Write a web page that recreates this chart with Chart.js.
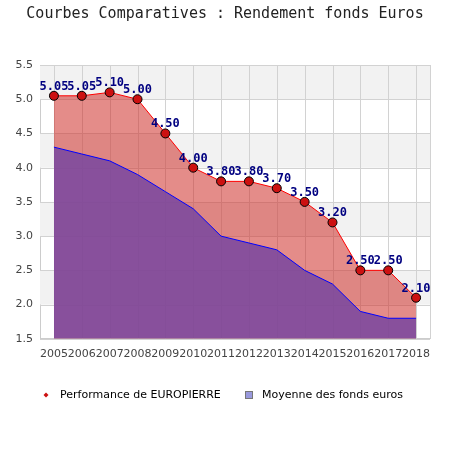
<!DOCTYPE html>
<html><head><meta charset="utf-8">
<script src="https://cdn.jsdelivr.net/npm/chart.js@4/dist/chart.umd.min.js"></script>
<style>html,body{margin:0;padding:0;background:#fff;}#wrap{width:450px;height:450px;position:relative;}</style>
</head><body><div id="wrap"><canvas id="c" width="450" height="450"></canvas></div>
<script>
const chartTitle = "Courbes Comparatives : Rendement fonds Euros";
const years = ["2005","2006","2007","2008","2009","2010","2011","2012","2013","2014","2015","2016","2017","2018"];
const europierre = [5.05,5.05,5.10,5.00,4.50,4.00,3.80,3.80,3.70,3.50,3.20,2.50,2.50,2.10];
const moyenne = [4.3,4.2,4.1,3.9,3.65,3.4,3.0,2.9,2.8,2.5,2.3,1.9,1.8,1.8];
const seriesNames = ["Performance de EUROPIERRE","Moyenne des fonds euros"];
const yTicks = [1.5,2.0,2.5,3.0,3.5,4.0,4.5,5.0,5.5];

const bandsPlugin = {
  id:'bands',
  beforeDatasetsDraw(chart){
    const {ctx, chartArea:a, scales:{y}} = chart;
    ctx.save();
    for(let i=0;i<yTicks.length-1;i++){
      const lo=yTicks[i], hi=yTicks[i+1];
      if(i%2===1){
        const y1=y.getPixelForValue(hi), y2=y.getPixelForValue(lo);
        ctx.fillStyle='#f2f2f2';
        ctx.fillRect(a.left,y1,a.right-a.left,y2-y1);
      }
    }
    ctx.strokeStyle='#d2d2d2'; ctx.lineWidth=1;
    const x=chart.scales.x;
    years.forEach((_,i)=>{const px=Math.round(x.getPixelForValue(i))+0.5;ctx.beginPath();ctx.moveTo(px,a.top);ctx.lineTo(px,a.bottom);ctx.stroke();});
    yTicks.forEach(v=>{const py=Math.round(y.getPixelForValue(v))+0.5;ctx.beginPath();ctx.moveTo(a.left,py);ctx.lineTo(a.right,py);ctx.stroke();});
    ctx.beginPath();ctx.moveTo(a.right+0.5,a.top);ctx.lineTo(a.right+0.5,a.bottom);ctx.stroke();
    ctx.restore();
  }
};
const labelsPlugin = {
  id:'vlabels',
  afterDatasetsDraw(chart){
    const {ctx} = chart;
    const meta = chart.getDatasetMeta(0);
    ctx.save();
    ctx.font='bold 12px "DejaVu Sans Mono", monospace';
    ctx.fillStyle='#000080';
    ctx.textAlign='center'; ctx.textBaseline='alphabetic';
    meta.data.forEach((pt,i)=>{
      ctx.fillText(europierre[i].toFixed(2), pt.x, pt.y-6);
    });
    ctx.restore();
  }
};
const legendPlugin = {
  id:'customLegend',
  afterDraw(chart){
    const {ctx} = chart;
    ctx.save();
    ctx.font='15px "DejaVu Sans Mono", monospace';
    ctx.fillStyle='#222'; ctx.textAlign='center'; ctx.textBaseline='middle';
    ctx.fillText(chartTitle,225,14);
    ctx.font='11px "DejaVu Sans", sans-serif';
    ctx.textBaseline='middle'; ctx.textAlign='left';
    const ly=395;
    ctx.fillStyle='#cc1111';
    ctx.beginPath();ctx.moveTo(46,ly-2.5);ctx.lineTo(48.5,ly);ctx.lineTo(46,ly+2.5);ctx.lineTo(43.5,ly);ctx.closePath();ctx.fill();
    ctx.fillStyle='#000';
    ctx.fillText(seriesNames[0],60,ly);
    ctx.fillStyle='#9999dd'; ctx.strokeStyle='#777';
    ctx.fillRect(245.5,391.5,7,7); ctx.strokeRect(245.5,391.5,7,7);
    ctx.fillStyle='#000';
    ctx.fillText(seriesNames[1],262,ly);
    ctx.restore();
  }
};

new Chart(document.getElementById('c'),{
  type:'line',
  data:{labels:years,datasets:[
    {label:seriesNames[0],data:europierre,borderColor:'#ff0000',borderWidth:1,backgroundColor:'rgba(205,45,40,0.55)',fill:'origin',
     pointBackgroundColor:'#cc1111',pointBorderColor:'#000',pointBorderWidth:1,pointRadius:4.5,tension:0,order:2},
    {label:seriesNames[1],data:moyenne,borderColor:'#0000ff',borderWidth:1,backgroundColor:'rgba(120,70,160,0.85)',fill:'origin',
     pointRadius:0,tension:0,order:1}
  ]},
  options:{
    responsive:false,animation:false,
    layout:{padding:{top:65,left:0,right:20,bottom:80}},
    plugins:{
      legend:{display:false},tooltip:{enabled:false},title:{display:false}
    },
    scales:{
      x:{offset:true,grid:{display:false,offset:false,drawTicks:false},border:{display:true,color:'#cccccc'},
         ticks:{autoSkip:false,maxRotation:0,minRotation:0,color:'#444',font:{family:'"DejaVu Sans", sans-serif',size:11},padding:9}},
      y:{min:1.5,max:5.5,grid:{display:false,drawTicks:false},border:{display:true,color:'#cccccc'},
         afterFit(s){s.width=40;},
         ticks:{stepSize:0.5,color:'#444',font:{family:'"DejaVu Sans", sans-serif',size:11},padding:7,callback:v=>Number(v).toFixed(1)}}
    }
  },
  plugins:[bandsPlugin,labelsPlugin,legendPlugin]
});
</script></body></html>
